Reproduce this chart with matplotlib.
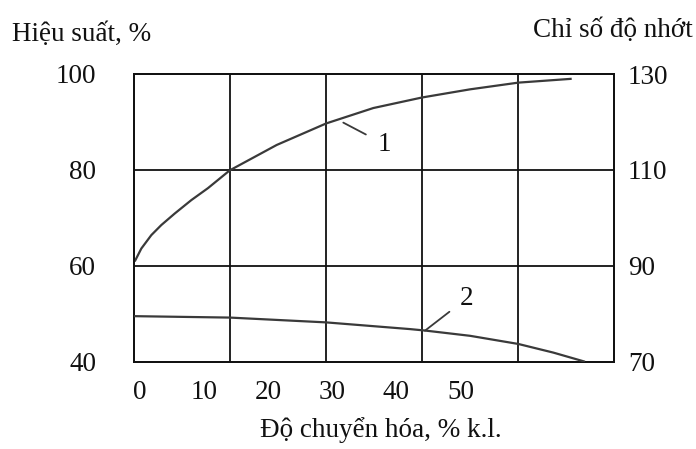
import numpy as np
import matplotlib
matplotlib.use("Agg")
import matplotlib.pyplot as plt

# Conversion degree (% k.l.) axis labels
x_ticks = [0, 10, 20, 30, 40, 50]

# Curve 1: yield, % (left axis)
x_yield = [-0.82, 0.21, 1.77, 3.33, 5.42, 8.01, 10.61, 14.0, 21.33, 29.07,
           36.4, 44.0, 51.49, 59.02, 67.35]
y_yield = [60.9, 63.6, 66.4, 68.5, 70.9, 73.7, 76.2, 79.9, 85.2, 89.7,
           92.9, 95.1, 96.8, 98.2, 99.0]

# Curve 2: viscosity index (right axis)
x_vi = [-1.01, 14.04, 29.02, 42.12, 44.46, 51.49, 59.02, 64.48, 69.42]
y_vi = [79.5, 79.2, 78.2, 76.8, 76.5, 75.4, 73.7, 71.9, 70.0]

left_ticks = [40, 60, 80, 100]
right_ticks = [70, 90, 110, 130]

FONT = "Liberation Serif"
FS = 19.5
INK = "#111111"
CURVE = "#3a3a3a"

fig = plt.figure(figsize=(6.96, 4.49), dpi=100)
W, H = 696, 449
left, right, top, bottom = 133.5, 614, 74, 361.7
ax = fig.add_axes([left / W, 1 - bottom / H, (right - left) / W, (bottom - top) / H])

xmin, xmax = -1.01, 73.95
ax.set_xlim(xmin, xmax)
ax.set_ylim(40, 100)

ax2 = ax.twinx()
ax2.set_ylim(70, 130)

# grid: 5 columns x 3 rows
for gx in np.linspace(xmin, xmax, 6)[1:-1]:
    ax.axvline(gx, color=INK, lw=1.3, zorder=1)
for gy in left_ticks[1:-1]:
    ax.axhline(gy, color=INK, lw=1.3, zorder=1)

for a in (ax, ax2):
    for s in a.spines.values():
        s.set_linewidth(1.3)
        s.set_color(INK)

ax.plot(x_yield, y_yield, color=CURVE, lw=1.6, zorder=3, solid_capstyle="butt")
ax2.plot(x_vi, y_vi, color=CURVE, lw=1.6, zorder=3, solid_capstyle="butt")

ax.set_xticks(x_ticks)
ax.set_xticklabels([str(v) for v in x_ticks], fontfamily=FONT, fontsize=FS)
ax.set_yticks(left_ticks)
ax.set_yticklabels([str(v) for v in left_ticks], fontfamily=FONT, fontsize=FS)
ax2.set_yticks(right_ticks)
ax2.set_yticklabels([str(v) for v in right_ticks], fontfamily=FONT, fontsize=FS)
ax.tick_params(axis="x", length=0, pad=13, colors=INK)
ax.tick_params(axis="y", length=0, pad=27, colors=INK)
ax2.tick_params(axis="y", length=0, pad=10, colors=INK)

# curve labels with leader lines
ax.annotate("1", xy=(31.72, 89.86), xytext=(38.07, 85.4), fontfamily=FONT, fontsize=FS,
            ha="center", va="center", color=INK,
            arrowprops=dict(arrowstyle="-", color=CURVE, lw=1.3, shrinkA=7, shrinkB=0))
ax2.annotate("2", xy=(44.46, 76.47), xytext=(50.97, 83.2), fontfamily=FONT, fontsize=FS,
             ha="center", va="center", color=INK,
             arrowprops=dict(arrowstyle="-", color=CURVE, lw=1.3, shrinkA=7, shrinkB=0))

fig.text(11.7 / W, 1 - 41 / H, "Hiệu suất, %", fontfamily=FONT, fontsize=FS,
         ha="left", va="baseline", color=INK)
fig.text(693 / W, 1 - 37 / H, "Chỉ số độ nhớt", fontfamily=FONT, fontsize=FS,
         ha="right", va="baseline", color=INK)
fig.text(381 / W, 1 - 437 / H, "Độ chuyển hóa, % k.l.", fontfamily=FONT, fontsize=FS,
         ha="center", va="baseline", color=INK)

fig.savefig("out.png", dpi=100, facecolor="white")
